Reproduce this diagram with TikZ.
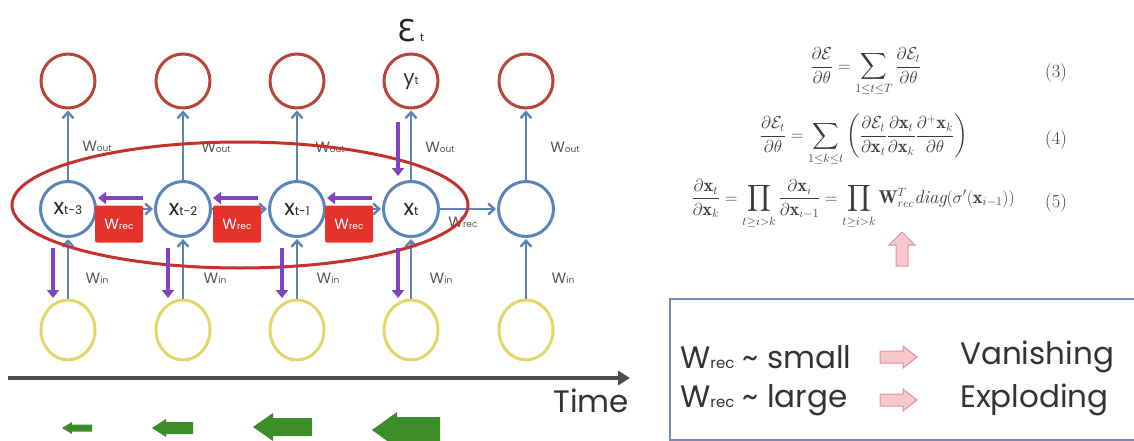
\documentclass[tikz,border=0pt]{standalone}
\usepackage{fontspec}
\usepackage{amsmath,amssymb}
\usetikzlibrary{arrows.meta,shapes.geometric}
\newfontfamily\pop{Poppins}
\newfontfamily\dvs{DejaVu Sans}
\definecolor{hblue}{HTML}{5B84B8}
\definecolor{ored}{HTML}{B8453A}
\definecolor{iyel}{HTML}{E2D66A}
\definecolor{purp}{HTML}{7E45BE}
\definecolor{recred}{HTML}{E5322B}
\definecolor{ellred}{HTML}{C8302E}
\definecolor{tgray}{HTML}{555555}
\definecolor{axgray}{HTML}{4D4D4D}
\definecolor{grn}{HTML}{3C8C2A}
\definecolor{pinkf}{HTML}{F6C8CE}
\definecolor{pinkd}{HTML}{E0909A}
\definecolor{boxb}{HTML}{7C87B8}
\definecolor{eqgray}{HTML}{3A3A3A}
\newcommand{\Wl}[1]{{\pop\fontsize{15}{15}\selectfont W}{\pop\fontsize{9}{9}\selectfont #1}}
\newcommand{\xl}[1]{{\pop\fontsize{22}{22}\selectfont x}{\pop\fontsize{12}{12}\selectfont #1}}
\tikzset{
  ocirc/.style={circle,draw=ored,line width=3pt,minimum size=54pt,inner sep=0pt},
  hcirc/.style={circle,draw=hblue,line width=3pt,minimum size=55pt,inner sep=0pt,text=black!85},
  icirc/.style={ellipse,draw=iyel,line width=3pt,minimum width=54pt,minimum height=60pt,inner sep=0pt},
  barrow/.style={draw=hblue,line width=2.6pt,-{Straight Barb[length=6pt,width=11pt,line width=2.4pt]},shorten >=1pt},
  parrow/.style={draw=purp,line width=4.5pt,-{Triangle[length=8pt,width=12pt]}},
  recbox/.style={fill=recred,rounded corners=2pt,minimum width=48pt,minimum height=37pt,inner sep=0pt,text=white},
  wlab/.style={text=tgray,inner sep=0pt},
  eq/.style={text=eqgray,inner sep=0pt,font=\fontsize{18.5}{22}\selectfont},
  bigtxt/.style={text=black!80,inner sep=0pt,font=\pop\fontsize{31}{31}\selectfont},
  grarrow/.style={fill=grn,draw=none},
  pkarrow/.style={fill=pinkf,draw=pinkd,line width=1pt},
}
\begin{document}
\begin{tikzpicture}[x=1pt,y=-1pt]
\useasboundingbox (0,0) rectangle (1134,441);
% nodes
\foreach \i/\c in {1/68,2/183,3/297,4/411,5/526}{
  \node[ocirc] (o\i) at (\c,81) {};
  \node[icirc] (i\i) at (\c,330) {};
}
\node[hcirc] (h1) at (68,209) {\xl{t-3}};
\node[hcirc] (h2) at (183,209) {\xl{t-2}};
\node[hcirc] (h3) at (297,209) {\xl{t-1}};
\node[hcirc] (h4) at (411,209) {\xl{t}};
\node[hcirc] (h5) at (526,209) {};
\node[text=black!80,inner sep=0pt] (ylab) at (411,82) {{\pop\fontsize{20}{20}\selectfont y}{\pop\fontsize{11}{11}\selectfont t}};
% arrows
\foreach \i in {1,...,5}{
  \draw[barrow] (i\i) -- (h\i);
  \draw[barrow] (h\i) -- (o\i);
}
\draw[barrow] (h1) -- (h2);
\draw[barrow] (h2) -- (h3);
\draw[barrow] (h3) -- (h4);
\draw[barrow] (h4) -- (h5);
% labels
\node[wlab] (wo1) at (97,146) {\Wl{out}};
\node[wlab] (wo2) at (216,147) {\Wl{out}};
\node[wlab] (wo3) at (330,147) {\Wl{out}};
\node[wlab] (wo4) at (440,147) {\Wl{out}};
\node[wlab] (wo5) at (565,147) {\Wl{out}};
\node[wlab] (wi1) at (97,278) {\Wl{in}};
\node[wlab] (wi2) at (215,278) {\Wl{in}};
\node[wlab] (wi3) at (328,278) {\Wl{in}};
\node[wlab] (wi4) at (441,278) {\Wl{in}};
\node[wlab] (wi5) at (563,278) {\Wl{in}};
\node[wlab] (wr4) at (463,222) {\Wl{rec}};
% recurrent weight boxes
\node[recbox] (r1) at (119,224) {\Wl{rec}};
\node[recbox] (r2) at (237,224) {\Wl{rec}};
\node[recbox] (r3) at (349,224) {\Wl{rec}};
% ellipse
\draw[ellred,line width=3pt] (240,205) ellipse [x radius=228pt,y radius=63pt];
% purple gradient arrows
\coordinate (ph1s) at (143,198); \coordinate (ph1e) at (98,198);
\coordinate (ph2s) at (258,198); \coordinate (ph2e) at (213,198);
\coordinate (ph3s) at (372,198); \coordinate (ph3e) at (327,198);
\draw[parrow] (ph1s) -- (ph1e);
\draw[parrow] (ph2s) -- (ph2e);
\draw[parrow] (ph3s) -- (ph3e);
\coordinate (pv0s) at (398,122); \coordinate (pv0e) at (398,176);
\draw[parrow] (pv0s) -- (pv0e);
\foreach \k/\xx in {1/53,2/168,3/282,4/398}{
  \coordinate (pv\k s) at (\xx,248); \coordinate (pv\k e) at (\xx,298);
  \draw[parrow] (pv\k s) -- (pv\k e);
}
% error label
\node[inner sep=0pt,text=black!85] (err) at (411,31) {{\dvs\fontsize{30}{30}\selectfont Ɛ}\hspace{4pt}{\pop\fontsize{11}{11}\selectfont t}};
% time axis
\coordinate (ts) at (8,378); \coordinate (te) at (630,378);
\draw[axgray,line width=4pt,-{Triangle[length=12pt,width=14pt]}] (ts) -- (te);
\node[bigtxt,anchor=center] (time) at (591,401) {Time};
% green arrows
\fill[grarrow] (62,428) -- (72,422) -- (72,424.5) -- (92,424.5) -- (92,431.5) -- (72,431.5) -- (72,434) -- cycle;
\fill[grarrow] (152,428) -- (166,419) -- (166,422) -- (193,422) -- (193,434) -- (166,434) -- (166,437) -- cycle;
\fill[grarrow] (253,427) -- (273,413) -- (273,418) -- (312,418) -- (312,436) -- (273,436) -- (273,441) -- cycle;
\fill[grarrow] (372,430) -- (397,412) -- (397,417) -- (440,417) -- (440,443) -- (397,443) -- (397,448) -- cycle;
% equations
\node[eq] (e3) at (866,72) {$\displaystyle \frac{\partial\mathcal{E}}{\partial\theta}=\sum_{1\le t\le T}\frac{\partial\mathcal{E}_t}{\partial\theta}$};
\node[eq] (e4) at (864,140) {$\displaystyle \frac{\partial\mathcal{E}_t}{\partial\theta}=\sum_{1\le k\le t}\left(\frac{\partial\mathcal{E}_t}{\partial\mathbf{x}_t}\frac{\partial\mathbf{x}_t}{\partial\mathbf{x}_k}\frac{\partial^+\mathbf{x}_k}{\partial\theta}\right)$};
\node[eq] (e5) at (853,204) {$\displaystyle \frac{\partial\mathbf{x}_t}{\partial\mathbf{x}_k}=\prod_{t\ge i>k}\frac{\partial\mathbf{x}_i}{\partial\mathbf{x}_{i-1}}=\prod_{t\ge i>k}\mathbf{W}^T_{rec}\mathit{diag}(\sigma'(\mathbf{x}_{i-1}))$};
\node[eq] (n3) at (1056,73) {(3)};
\node[eq] (n4) at (1056,140) {(4)};
\node[eq] (n5) at (1056,203) {(5)};
% pink up arrow
\filldraw[pkarrow] (902,232) -- (915,245) -- (908,245) -- (908,266) -- (896,266) -- (896,245) -- (889,245) -- cycle;
% box
\draw[boxb,line width=2.5pt] (1140,299) -- (670,299) -- (670,440) -- (1140,440);
\node[bigtxt,anchor=west] (row1) at (680,357) {W{\fontsize{15}{15}\selectfont rec} \textasciitilde{} small};
\node[bigtxt,anchor=west] (row2) at (680,400) {W{\fontsize{15}{15}\selectfont rec} \textasciitilde{} large};
\filldraw[pkarrow] (917,357) -- (903,346) -- (903,351) -- (880,351) -- (880,363) -- (903,363) -- (903,368) -- cycle;
\filldraw[pkarrow] (917,400) -- (903,389) -- (903,394) -- (880,394) -- (880,406) -- (903,406) -- (903,411) -- cycle;
\node[bigtxt,anchor=west] (van) at (960,357) {Vanishing};
\node[bigtxt,anchor=west] (exp) at (960,400) {Exploding};
\end{tikzpicture}
\end{document}
